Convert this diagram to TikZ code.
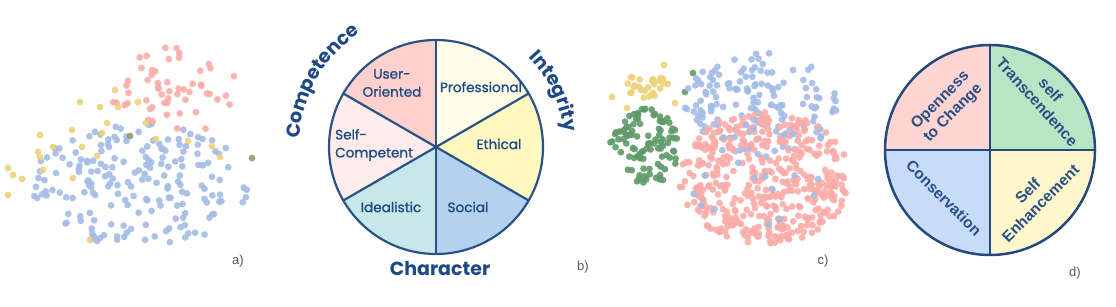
\documentclass[tikz,border=0pt]{standalone}
\usepackage{fontspec}
\setmainfont{Liberation Sans}
\newfontfamily\comic{Poppins}
\newfontface\comicmed{Poppins}[FakeBold=1.2]
\usetikzlibrary{decorations.text,calc}
\definecolor{cUser}{HTML}{FFD1CA}
\definecolor{cProf}{HTML}{FFFDE8}
\definecolor{cEth}{HTML}{FFF8C0}
\definecolor{cSoc}{HTML}{B4D2EE}
\definecolor{cIdeal}{HTML}{C8E7EB}
\definecolor{cSelf}{HTML}{FFEDEC}
\definecolor{lineb}{HTML}{2A5286}
\definecolor{txtb}{HTML}{1D4A87}
\definecolor{dPink}{HTML}{FFD5D2}
\definecolor{dGreen}{HTML}{B9E5C4}
\definecolor{dBlue}{HTML}{C9DCF7}
\definecolor{dYellow}{HTML}{FEF7CB}
\definecolor{lined}{HTML}{24497F}
\definecolor{txtd}{HTML}{2A4E85}
\definecolor{sBlue}{HTML}{A4BCE6}
\definecolor{sRed}{HTML}{FBACA8}
\definecolor{sYellow}{HTML}{EED27A}
\definecolor{sGreen}{HTML}{5F9B6A}
\definecolor{sOlive}{HTML}{8FA070}
\newcommand{\dotcloud}[6]{%
  \foreach \k in {1,...,#1}{%
    \pgfmathsetmacro{\myrad}{sqrt(rnd)}%
    \pgfmathsetmacro{\myang}{360*rnd}%
    \fill[#6] ({#2+#4*\myrad*cos(\myang)},{#3+#5*\myrad*sin(\myang)}) circle (3.4pt);}}
\tikzset{
  pieline/.style={draw=lineb, line width=2.2pt},
  pielined/.style={draw=lined, line width=2.5pt},
  blab/.style={font=\comicmed\fontsize{13.6}{18}\selectfont, text=txtb, align=center, inner sep=0pt},
  bigb/.style={font=\comic\bfseries\fontsize{19}{19}\selectfont, text=txtb, inner sep=0pt},
  dlab/.style={font=\bfseries\fontsize{15.5}{18}\selectfont, text=txtd, align=center, inner sep=0pt},
  plab/.style={font=\fontsize{13}{13}\selectfont, text=black!65, inner sep=0pt},
  dotb/.style={fill=sBlue, fill opacity=0.9},
  dotr/.style={fill=sRed, fill opacity=0.9},
  doty/.style={fill=sYellow, fill opacity=0.9},
  dotg/.style={fill=sGreen, fill opacity=0.9},
  doto/.style={fill=sOlive, fill opacity=0.9}
}
\begin{document}
\begin{tikzpicture}[x=1pt,y=1pt]
\useasboundingbox (0,0) rectangle (1116,307);
\fill[white] (0,0) rectangle (1116,307);
\pgfmathsetseed{42}
% ---------- scatter a ----------
\dotcloud{190}{140}{122}{108}{62}{dotb}
\dotcloud{55}{175}{216}{65}{44}{dotr}
\foreach \p in {(80,205),(115,217),(100,200),(118,200),(138,205),(40,172),(72,177),(107,184),(102,174),(53,160),(82,160),(38,155),(40,150),(97,151),(146,184),(156,168),(188,166),(212,161),(220,150),(43,137),(13,132),(22,128),(8,139),(73,129),(90,67),(8,112)}
  \fill[doty] \p circle (3.4pt);
\foreach \p in {(130,171),(252,149)} \fill[doto] \p circle (3.4pt);
% ---------- scatter c ----------
\dotcloud{100}{645}{162}{36}{38}{dotg}
\foreach \p in {(693,234),(685,215),(703,107),(663,127)} \fill[dotg] \p circle (3.4pt);
\dotcloud{25}{645}{222}{20}{14}{doty}
\foreach \p in {(664,242),(668,223),(612,210),(627,199),(675,204)} \fill[doty] \p circle (3.4pt);
\dotcloud{150}{762}{202}{78}{52}{dotb}
\dotcloud{430}{765}{129}{86}{66}{dotr}
\dotcloud{20}{760}{140}{80}{60}{dotb}
% ---------- pie b ----------
\coordinate (pb) at (436,160);
\fill[cUser] (pb) -- ++(90:107) arc[start angle=90,end angle=150,radius=107pt] -- cycle;
\fill[cSelf] (pb) -- ++(150:107) arc[start angle=150,end angle=210,radius=107pt] -- cycle;
\fill[cIdeal] (pb) -- ++(210:107) arc[start angle=210,end angle=270,radius=107pt] -- cycle;
\fill[cSoc] (pb) -- ++(270:107) arc[start angle=270,end angle=330,radius=107pt] -- cycle;
\fill[cEth] (pb) -- ++(330:107) arc[start angle=330,end angle=390,radius=107pt] -- cycle;
\fill[cProf] (pb) -- ++(30:107) arc[start angle=30,end angle=90,radius=107pt] -- cycle;
\draw[pieline] ($(pb)+(90:107)$) -- ($(pb)+(270:107)$);
\draw[pieline] ($(pb)+(150:107)$) -- ($(pb)+(330:107)$);
\draw[pieline] ($(pb)+(30:107)$) -- ($(pb)+(210:107)$);
\draw[pieline] (pb) circle (107pt);
\node[blab] (uo) at (392,224) {User-\\Oriented};
\node[blab] (prof) at (481,220) {Professional};
\node[blab] (eth) at (499,163) {Ethical};
\node[blab, anchor=west, align=left] (sc) at (335,162) {Self-\\Competent};
\node[blab] (ideal) at (391,100) {Idealistic};
\node[blab] (soc) at (468,100) {Social};
\node[bigb] (char) at (440,38) {Character};
\path[decorate, decoration={text along path, text={|\comic\bfseries\fontsize{19}{19}\selectfont|Competence}, text align=center, text color=txtb}]
  ($(pb)+(190:137)$) arc[start angle=190, end angle=110, radius=137pt];
\path[decorate, decoration={text along path, text={|\comic\bfseries\fontsize{19}{19}\selectfont|Integrity}, text color=txtb}]
  ($(pb)+(44:129)$) arc[start angle=44, end angle=-25, radius=129pt];
% ---------- pie d ----------
\coordinate (pd) at (990,157);
\fill[dPink] (pd) -- ++(90:105) arc[start angle=90,end angle=180,radius=105pt] -- cycle;
\fill[dBlue] (pd) -- ++(180:105) arc[start angle=180,end angle=270,radius=105pt] -- cycle;
\fill[dYellow] (pd) -- ++(270:105) arc[start angle=270,end angle=360,radius=105pt] -- cycle;
\fill[dGreen] (pd) -- ++(0:105) arc[start angle=0,end angle=90,radius=105pt] -- cycle;
\draw[pielined] ($(pd)+(90:105)$) -- ($(pd)+(270:105)$);
\draw[pielined] ($(pd)+(180:105)$) -- ($(pd)+(0:105)$);
\draw[pielined] (pd) circle (105pt);
\node[dlab, rotate=45] (open) at (947,200) {Openness\\to Change};
\node[dlab, rotate=-48] (trans) at (1044,211) {self\\Transcendence};
\node[dlab, rotate=-45] (cons) at (944,109) {Conservation};
\node[dlab, rotate=45] (enh) at (1034,110) {Self\\Enhancement};
% ---------- panel labels ----------
\node[plab] (la) at (238,46) {a)};
\node[plab] (lb) at (583,40) {b)};
\node[plab] (lc) at (823,46) {c)};
\node[plab] (ld) at (1075,34) {d)};
\end{tikzpicture}
\end{document}
